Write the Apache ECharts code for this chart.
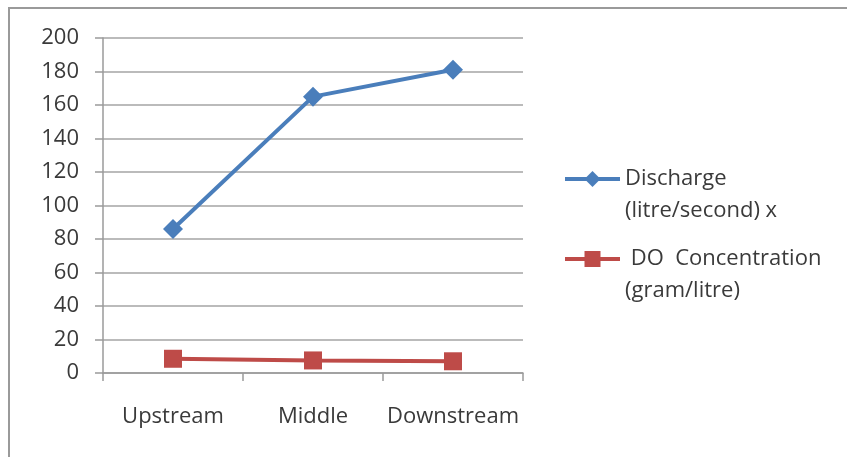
<!DOCTYPE html>
<html>
<head>
<meta charset="utf-8">
<script src="https://cdn.jsdelivr.net/npm/echarts@6/dist/echarts.min.js"></script>
<style>html,body{margin:0;padding:0;background:#fff}#c{width:847px;height:457px}</style>
</head>
<body>
<div id="c"></div>
<script>
const categories = ['Upstream', 'Middle', 'Downstream'];
const dischargeValues = [86, 165, 181];
const doValues = [8.5, 7.5, 7];
const seriesNames = ['Discharge\n(litre/second) x', ' DO  Concentration\n(gram/litre)'];

const FONT = '"Open Sans", sans-serif';
const chart = echarts.init(document.getElementById('c'), null, {renderer: 'canvas'});
const legendBase = {
  orient: 'vertical',
  left: 558,
  itemWidth: 55,
  itemHeight: 20,
  itemGap: 0,
  selectedMode: false,
  lineStyle: {width: 4},
  formatter: function (name) { return ' \n' + name; },
  textStyle: {fontFamily: FONT, fontSize: 22, color: '#3a3a3a', lineHeight: 32}
};
chart.setOption({
  animation: false,
  backgroundColor: '#fff',
  graphic: [{
    type: 'rect', shape: {x: 9, y: 8, width: 900, height: 500},
    style: {fill: 'none', stroke: '#9a9a9a', lineWidth: 2}, silent: true
  }],
  legend: [
    Object.assign({}, legendBase, {top: 126, data: [seriesNames[0]]}),
    Object.assign({}, legendBase, {top: 206, data: [seriesNames[1]]})
  ],
  grid: {left: 103, top: 38, width: 420, height: 335, containLabel: false},
  xAxis: {
    type: 'category',
    data: categories,
    boundaryGap: true,
    axisLine: {show: true, lineStyle: {color: '#9a9a9a', width: 1.5}},
    axisTick: {show: true, length: 8, alignWithLabel: false, lineStyle: {color: '#9a9a9a', width: 1.5}},
    axisLabel: {fontFamily: FONT, fontSize: 22, color: '#3a3a3a', margin: 33, interval: 0}
  },
  yAxis: {
    type: 'value',
    min: 0, max: 200, interval: 20,
    axisLine: {show: true, lineStyle: {color: '#9a9a9a', width: 1.5}},
    axisTick: {show: true, length: 8, lineStyle: {color: '#9a9a9a', width: 1.5}},
    splitLine: {show: true, lineStyle: {color: '#a4a4a4', width: 1.5}},
    axisLabel: {fontFamily: FONT, fontSize: 22, color: '#3a3a3a', margin: 24}
  },
  series: [
    {
      name: seriesNames[0], type: 'line', data: dischargeValues,
      symbol: 'diamond', symbolSize: 20,
      lineStyle: {color: '#4a7ebb', width: 4},
      itemStyle: {color: '#4a7ebb'}
    },
    {
      name: seriesNames[1], type: 'line', data: doValues,
      symbol: 'rect', symbolSize: 18,
      lineStyle: {color: '#be4b48', width: 4},
      itemStyle: {color: '#be4b48'}
    }
  ]
});
</script>
</body>
</html>
